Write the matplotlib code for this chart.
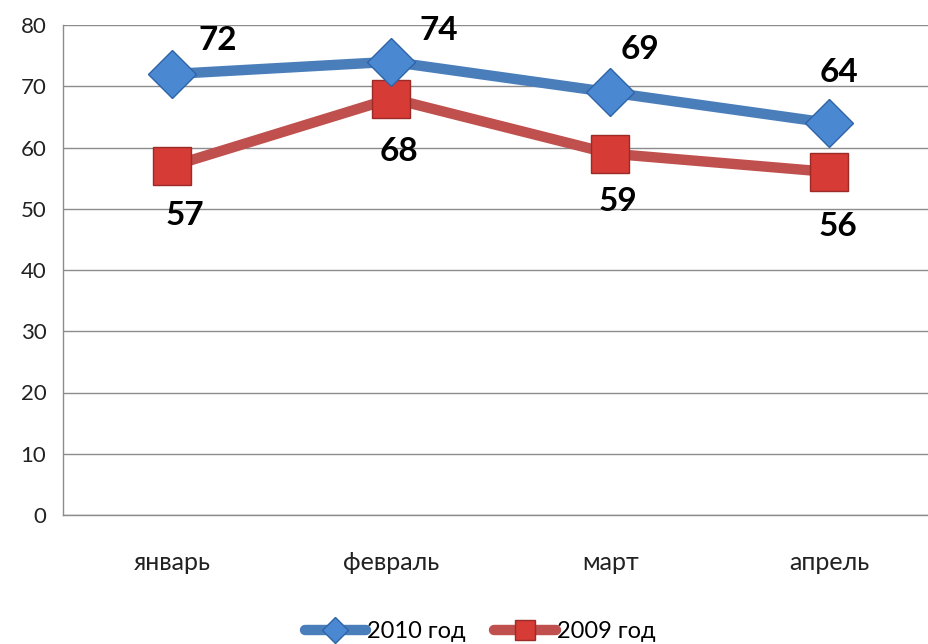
import matplotlib.pyplot as plt

# chart data
months = ['январь', 'февраль', 'март', 'апрель']
y2010 = [72, 74, 69, 64]
y2009 = [57, 68, 59, 56]
series_names = ['2010 год', '2009 год']

plt.rcParams['font.family'] = ['Lato', 'DejaVu Sans']

fig = plt.figure(figsize=(9.29, 6.44), dpi=100)
ax = fig.add_axes([63 / 929, 129 / 644, 876 / 929, 490 / 644])

x = range(len(months))

ax.plot(x, y2010, color='#4a7ebb', lw=7.5, solid_capstyle='round',
        marker='D', ms=24, mfc='#4a88d2', mec='#2f63a8', mew=1,
        label=series_names[0], zorder=4)
ax.plot(x, y2009, color='#c0504d', lw=7.5, solid_capstyle='round',
        marker='s', ms=27, mfc='#d63b36', mec='#9c2a26', mew=1,
        label=series_names[1], zorder=3)

# data labels, offsets in pixels
off2010 = [(45, 33), (47, 31), (30, 43), (10, 50)]
off2009 = [(12, -50), (7, -53), (7, -48), (8, -55)]
for i, v in enumerate(y2010):
    ax.annotate(str(v), (i, v), xytext=off2010[i], textcoords='offset pixels',
                ha='center', va='center', fontsize=24, fontweight='bold')
for i, v in enumerate(y2009):
    ax.annotate(str(v), (i, v), xytext=off2009[i], textcoords='offset pixels',
                ha='center', va='center', fontsize=24, fontweight='bold')

ax.set_xlim(-0.5, 3.5)
ax.set_ylim(0, 80)
ax.set_yticks(range(0, 81, 10))
ax.set_xticks(list(x))
ax.set_xticklabels(months)
ax.tick_params(axis='y', length=0, pad=12, labelsize=16, labelcolor='#222222')
ax.tick_params(axis='x', length=0, pad=26, labelsize=18, labelcolor='#222222')
ax.grid(axis='y', color='#8c8c8c', lw=1)
ax.set_axisbelow(True)
for s in ['top', 'right']:
    ax.spines[s].set_visible(False)
for s in ['left', 'bottom']:
    ax.spines[s].set_color('#8c8c8c')
    ax.spines[s].set_linewidth(1)

fig.legend(loc='center', bbox_to_anchor=(480 / 929, 1 - 632 / 644), ncol=2,
           frameon=False, fontsize=17, handlelength=2.6, handletextpad=0.05,
           columnspacing=1.2, markerscale=0.55)

plt.savefig('out.png', dpi=100)
